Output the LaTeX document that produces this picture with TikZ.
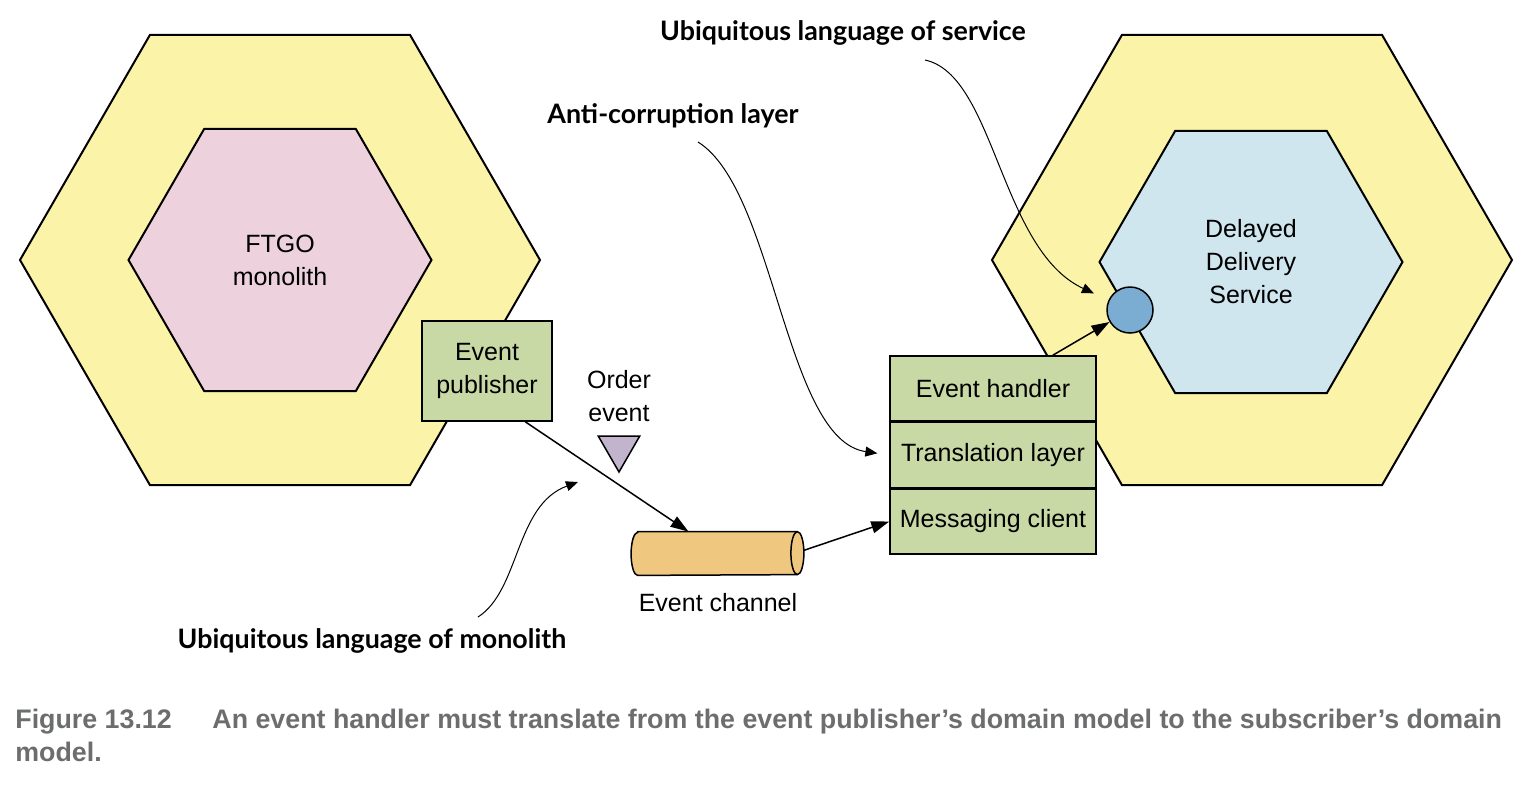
\documentclass[tikz,border=0pt]{standalone}
\usepackage{fontspec}
\setmainfont{Liberation Sans}
\newfontfamily\notefont{Lato}
\newfontfamily\capfont{Liberation Sans}
\usetikzlibrary{shapes.geometric}
\usetikzlibrary{arrows.meta}
\usetikzlibrary{positioning,calc}
\definecolor{hexyellow}{HTML}{FAF3A8}
\definecolor{hexpink}{HTML}{EDD1DC}
\definecolor{hexblue}{HTML}{CFE6EF}
\definecolor{boxgreen}{HTML}{C8D9A5}
\definecolor{chanorange}{HTML}{EFC77F}
\definecolor{evpurple}{HTML}{C3B4CE}
\definecolor{portblue}{HTML}{7BADD3}
\definecolor{capgray}{HTML}{6C6D6F}

\begin{document}
\begin{tikzpicture}[x=0.5pt,y=-0.5pt,
	every node/.style={font=\fontsize{12.5pt}{16.5pt}\selectfont,align=center},
	hexagon/.style={regular polygon,regular polygon sides=6,draw,line width=1pt,inner sep=0pt},
	outerhex/.style={hexagon,fill=hexyellow,minimum size=260pt},
	innerhex/.style={hexagon,minimum size=151.5pt},
	layerbox/.style={rectangle,draw,line width=0.75pt,fill=boxgreen,minimum width=103pt,minimum height=32.5pt,inner sep=0pt},
	notelabel/.style={font=\notefont\bfseries\fontsize{13.4pt}{15pt}\selectfont},
	caption/.style={anchor=west,inner sep=0pt,text=capgray,font=\capfont\bfseries\fontsize{13.4pt}{15pt}\selectfont},
	flow/.style={-{Triangle[length=9pt,width=6pt]},line width=0.75pt},
	note/.style={-{Triangle[length=6pt,width=5pt]},line width=0.5pt}
	]
	\useasboundingbox (0,0) rectangle (1528,784);
	% monolith side
	\node[outerhex] (monout) at (280,260) {};
	\node[innerhex,fill=hexpink] (monin) at (280,260) {FTGO\\monolith};
	\node[layerbox,minimum width=65pt,minimum height=50pt] (pub) at (487,371) {Event\\publisher};
	\node (evlbl) at (619,396) {Order\\event};
	\node[regular polygon,regular polygon sides=3,shape border rotate=180,draw,line width=0.75pt,fill=evpurple,minimum size=24pt,inner sep=0pt] (ev) at (619,448) {};
	% event channel (cylinder drawn round the node)
	\node[minimum width=85.5pt,minimum height=21.5pt,inner sep=0pt] (chan) at (717.5,553.5) {};
	\draw[line width=0.75pt,fill=chanorange] ($(chan.north west)+(6,0)$) -- ($(chan.north east)+(-6,0)$)
		arc[start angle=90,end angle=-90,x radius=3.25pt,y radius=10.75pt]
		-- ($(chan.south west)+(6,0)$)
		arc[start angle=270,end angle=90,x radius=3.25pt,y radius=10.75pt] -- cycle;
	\draw[line width=0.75pt] ($(chan.north east)+(-6,0)$) arc[start angle=90,end angle=270,x radius=3.25pt,y radius=10.75pt];
	\node (chanlbl) at (718,603) {Event channel};
	% service side
	\node[outerhex] (svcout) at (1252,260) {};
	\node[innerhex,fill=hexblue] (svcin) at (1251,262) {Delayed\\Delivery\\Service};
	\node[layerbox] (hnd) at (993,388.5) {Event handler};
	\node[layerbox,below=0pt of hnd] (trl) {Translation layer};
	\node[layerbox,below=0pt of trl] (msg) {Messaging client};
	\node[circle,draw,line width=0.75pt,fill=portblue,minimum size=23pt,inner sep=0pt] (port) at (1130,310) {};
	% flow of the event
	\draw[flow] (pub.-53) -- ($(chan.north)+(-29,0)$);
	\draw[flow] ($(chan.east)+(0,-3)$) -- (msg.west);
	\draw[flow] ($(hnd.north east)+(-44,0)$) -- (port);
	% annotations
	\node[notelabel] (svclbl) at (843,33) {Ubiquitous language of service};
	\node[notelabel] (aclbl) at (673,116) {Anti-corruption layer};
	\node[notelabel] (monlbl) at (372,641) {Ubiquitous language of monolith};
	\coordinate (svcstart) at (925,60);
	\coordinate (acstart) at (698,142);
	\coordinate (monstart) at (478,617);
	\coordinate (monend) at (578,482);
	\draw[note,shorten >=8pt] (svcstart) .. controls (995,75) and (1000,250) .. (port);
	\draw[note,shorten >=6pt] (acstart) .. controls (775,190) and (785,440) .. (trl.west);
	\draw[note] (monstart) .. controls (520,590) and (515,505) .. (monend);
	% caption
	\node[caption] (capnum) at (15,722) {Figure 13.12};
	\node[caption] (captxt) at (212,722) {An event handler must translate from the event publisher’s domain model to the subscriber’s domain};
	\node[caption] (capend) at (15,752) {model.};
\end{tikzpicture}
\end{document}
